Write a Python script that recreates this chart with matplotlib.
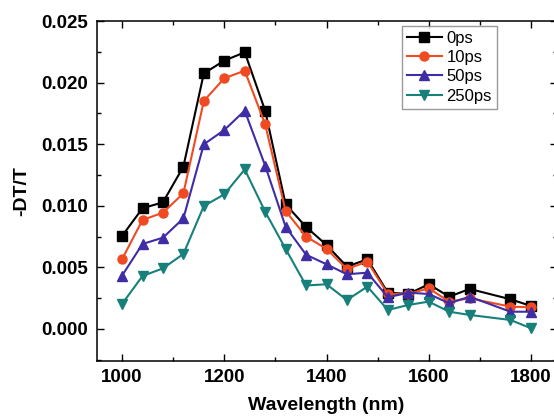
import matplotlib
matplotlib.use("Agg")
import matplotlib.pyplot as plt
from matplotlib.ticker import MultipleLocator

# wavelength grid (nm)
wavelength = [1000, 1040, 1080, 1120, 1160, 1200, 1240, 1280, 1320, 1360,
              1400, 1440, 1480, 1520, 1560, 1600, 1640, 1680, 1760, 1800]

# -DT/T at each delay
dt_0ps = [0.00755, 0.0098, 0.01028, 0.01318, 0.02075, 0.02178, 0.02246, 0.01772, 0.01012, 0.00828,
          0.00682, 0.00506, 0.00566, 0.00295, 0.00284, 0.00363, 0.00262, 0.00325, 0.00241, 0.00187]
dt_10ps = [0.00566, 0.00885, 0.00944, 0.01101, 0.01851, 0.02035, 0.02097, 0.01661, 0.00958, 0.0075,
           0.0065, 0.00487, 0.00547, 0.00284, 0.00284, 0.0033, 0.00222, 0.00249, 0.00181, 0.00176]
dt_50ps = [0.00433, 0.0069, 0.00741, 0.00898, 0.01499, 0.01615, 0.01772, 0.01326, 0.0083, 0.00603,
           0.00525, 0.00444, 0.00457, 0.00257, 0.00295, 0.00284, 0.00209, 0.00262, 0.0014, 0.0014]
dt_250ps = [0.00203, 0.0043, 0.00492, 0.00609, 0.00998, 0.01093, 0.01295, 0.00952, 0.0065, 0.00353,
            0.00363, 0.00235, 0.00344, 0.00154, 0.00195, 0.00222, 0.0014, 0.00114, 0.00073, 0.00006]

labels = ["0ps", "10ps", "50ps", "250ps"]
colors = ["#000000", "#f04a22", "#3f2da6", "#17807a"]
markers = ["s", "o", "^", "v"]

plt.rcParams["font.family"] = ["Liberation Sans", "DejaVu Sans"]

fig = plt.figure(figsize=(5.54, 4.2), dpi=100)
ax = fig.add_axes([96.5 / 554, 59 / 420, 460 / 554, 340 / 420])

series = [dt_0ps, dt_10ps, dt_50ps, dt_250ps]
for ys, lab, c, m in zip(series, labels, colors, markers):
    ax.plot(wavelength, ys, color=c, marker=m, markersize=6.5, linewidth=1.5, label=lab)

ax.set_xlim(950, 1850)
ax.set_ylim(-0.0026, 0.025)
ax.xaxis.set_major_locator(MultipleLocator(200))
ax.xaxis.set_minor_locator(MultipleLocator(100))
ax.yaxis.set_major_locator(MultipleLocator(0.005))
ax.yaxis.set_minor_locator(MultipleLocator(0.0025))
ax.yaxis.set_major_formatter(matplotlib.ticker.FormatStrFormatter("%.3f"))
ax.tick_params(which="both", direction="in", top=True, right=True, width=1.0)
ax.tick_params(which="major", length=5, labelsize=13.5, pad=6)
ax.tick_params(which="minor", length=3)
for lbl in ax.get_xticklabels() + ax.get_yticklabels():
    lbl.set_fontweight("bold")
for sp in ax.spines.values():
    sp.set_linewidth(1.1)

ax.set_xlabel("Wavelength (nm)", fontsize=14, fontweight="bold", labelpad=8)
ax.set_ylabel("-DT/T", fontsize=14, fontweight="bold", labelpad=8)

leg = ax.legend(loc="upper left", bbox_to_anchor=(305 / 460, 1 - 5 / 340), fontsize=12,
                frameon=True, fancybox=False, edgecolor="#808080", handlelength=2.1,
                labelspacing=0.25, borderpad=0.3, handletextpad=0.3, borderaxespad=0)
leg.get_frame().set_linewidth(1.0)

fig.savefig("out.png", dpi=100)
